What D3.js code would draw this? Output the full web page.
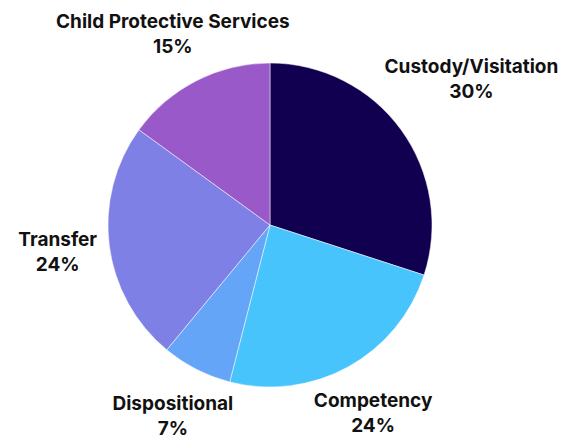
<!DOCTYPE html>
<html>
<head>
<meta charset="utf-8">
<script src="https://cdn.jsdelivr.net/npm/d3@7"></script>
<style>
  body { margin: 0; background: #fff; }
  .label { font-family: Inter, "Noto Sans", sans-serif; font-weight: 700; font-size: 19px; fill: #111; }
</style>
</head>
<body>
<div id="chart"></div>
<script>
// --- data ---
const categories = ["Custody/Visitation", "Competency", "Dispositional", "Transfer", "Child Protective Services"];
const shares = [30, 24, 7, 24, 15];
const colors = ["#10004f", "#48c4fc", "#64a5f7", "#7e80e6", "#9a59c8"];

const width = 566, height = 437;
const cx = 270, cy = 225, radius = 162;
const labelRadius = 214;
// the big slice label sits further out
const labelRadiusFor = name => name === "Custody/Visitation" ? 249 : labelRadius;

const svg = d3.select("#chart")
  .append("svg")
  .attr("width", width)
  .attr("height", height);

const g = svg.append("g")
  .attr("transform", `translate(${cx}, ${cy})`);

const data = categories.map((c, i) => ({ name: c, value: shares[i], color: colors[i] }));

const pie = d3.pie()
  .sort(null)
  .value(d => d.value);

const arc = d3.arc()
  .innerRadius(0)
  .outerRadius(radius);

const arcs = pie(data);

// --- slices ---
g.append("g")
  .attr("class", "slices")
  .selectAll("path")
  .data(arcs)
  .enter().append("path")
  .attr("d", arc)
  .attr("fill", d => d.data.color)
  .attr("stroke", "#fff")
  .attr("stroke-width", 0.5);

// --- labels ---
const labels = g.append("g")
  .attr("class", "labels")
  .selectAll("text")
  .data(arcs)
  .enter().append("text")
  .attr("class", "label")
  .attr("text-anchor", "middle")
  .attr("transform", d => {
    const a = (d.startAngle + d.endAngle) / 2;
    const r = labelRadiusFor(d.data.name);
    return `translate(${r * Math.sin(a)}, ${-r * Math.cos(a)})`;
  });

labels.append("tspan")
  .attr("x", 0)
  .attr("y", -6)
  .text(d => d.data.name);

labels.append("tspan")
  .attr("x", 0)
  .attr("y", 19)
  .text(d => d.data.value + "%");
</script>
</body>
</html>
